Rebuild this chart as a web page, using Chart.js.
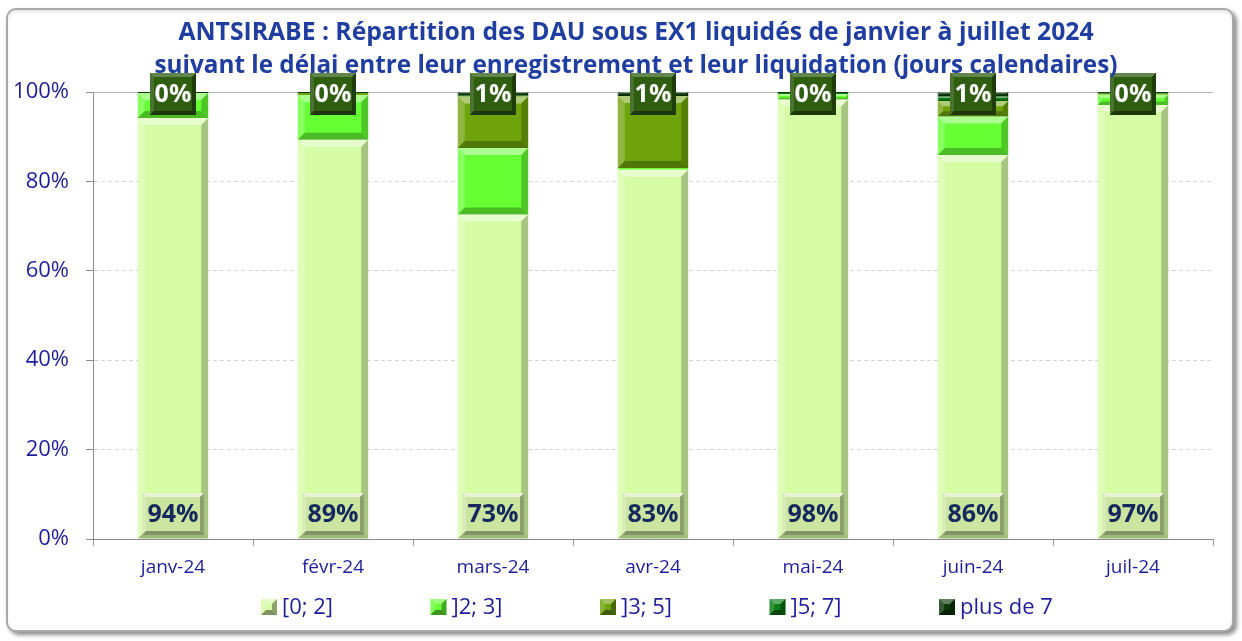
<!DOCTYPE html>
<html><head><meta charset="utf-8">
<script src="https://cdn.jsdelivr.net/npm/chart.js@4.4.1/dist/chart.umd.min.js"></script>
<style>
html,body{margin:0;padding:0;background:#fff;}
#wrap{position:relative;width:1242px;height:641px;overflow:hidden;}
#frame{position:absolute;left:6px;top:8px;width:1224px;height:620px;border:2px solid #a8a8a8;border-radius:10px;box-shadow:3px 3px 4px rgba(0,0,0,0.45), inset 0 3px 3px rgba(0,0,0,0.08);background:#fff;}
canvas{position:absolute;left:0;top:0;}
</style></head>
<body><div id="wrap"><div id="frame"></div><canvas id="c" width="1242" height="641"></canvas></div>
<script>
const titleLines = ['ANTSIRABE : Répartition des DAU sous EX1 liquidés de janvier à juillet 2024',
  'suivant le délai entre leur enregistrement et leur liquidation (jours calendaires)'];
const categories = ['janv-24','févr-24','mars-24','avr-24','mai-24','juin-24','juil-24'];
const seriesNames = ['[0; 2]', ']2; 3]', ']3; 5]', ']5; 7]', 'plus de 7'];
const s0to2 = [94.2, 89.3, 72.6, 82.6, 98.3, 85.9, 97.1];
const s2to3 = [5.6, 10.0, 14.9, 0.4, 1.2, 8.6, 2.3];
const s3to5 = [0, 0.5, 11.5, 16.1, 0, 3.5, 0.2];
const s5to7 = [0, 0, 0.2, 0, 0.3, 1.0, 0.2];
const sPlus7 = [0.2, 0.2, 0.8, 0.9, 0.2, 1.0, 0.2];
const yTicks = [0, 20, 40, 60, 80, 100];

const colors = ['#d6fba5', '#66ff33', '#6fa30a', '#0a7d12', '#0d3a0a'];
const FONT = "'Open Sans','Noto Sans',sans-serif";
const TXT = '#1e1e9c';

function bevel(ctx, l, t, r, b, s, lightA, darkA) {
  const h = b - t; s = Math.min(s, h / 3, (r - l) / 3);
  if (s < 1) return;
  ctx.save();
  ctx.fillStyle = 'rgba(255,255,255,' + lightA + ')';
  ctx.beginPath(); ctx.moveTo(l, t); ctx.lineTo(r, t); ctx.lineTo(r - s, t + s); ctx.lineTo(l + s, t + s); ctx.closePath(); ctx.fill();
  ctx.fillStyle = 'rgba(255,255,255,' + (lightA * 0.5) + ')';
  ctx.beginPath(); ctx.moveTo(l, t); ctx.lineTo(l + s, t + s); ctx.lineTo(l + s, b - s); ctx.lineTo(l, b); ctx.closePath(); ctx.fill();
  ctx.fillStyle = 'rgba(0,0,0,' + darkA + ')';
  ctx.beginPath(); ctx.moveTo(r, t); ctx.lineTo(r, b); ctx.lineTo(r - s, b - s); ctx.lineTo(r - s, t + s); ctx.closePath(); ctx.fill();
  ctx.fillStyle = 'rgba(0,0,0,' + (darkA * 1.2) + ')';
  ctx.beginPath(); ctx.moveTo(l, b); ctx.lineTo(r, b); ctx.lineTo(r - s, b - s); ctx.lineTo(l + s, b - s); ctx.closePath(); ctx.fill();
  ctx.restore();
}

const decor = {
  id: 'decor',
  beforeDatasetsDraw(chart) {
    const ctx = chart.ctx, ys = chart.scales.y, a = chart.chartArea;
    const yTop = Math.round(ys.getPixelForValue(100)) + 0.5;
    ctx.save(); ctx.strokeStyle = '#b4b4b4'; ctx.lineWidth = 1;
    ctx.beginPath(); ctx.moveTo(a.left, yTop); ctx.lineTo(a.right, yTop); ctx.stroke(); ctx.restore();
  },
  afterDatasetsDraw(chart) {
    const ctx = chart.ctx;
    chart.data.datasets.forEach((ds, i) => {
      chart.getDatasetMeta(i).data.forEach(el => {
        const l = el.x - el.width / 2, r = el.x + el.width / 2;
        const t = Math.min(el.y, el.base), b = Math.max(el.y, el.base);
        if (b - t > 2) bevel(ctx, l, t, r, b, 7, 0.45, 0.22);
      });
    });
    const ys = chart.scales.y;
    const bottomMeta = chart.getDatasetMeta(0), topMeta = chart.getDatasetMeta(4);
    ctx.save();
    ctx.textAlign = 'center'; ctx.textBaseline = 'middle';
    bottomMeta.data.forEach((el, k) => {
      const cx = el.x, cy = ys.getPixelForValue(0) - 25, w = 62, h = 42;
      ctx.fillStyle = '#cbe4a0'; ctx.fillRect(cx - w / 2, cy - h / 2, w, h);
      bevel(ctx, cx - w / 2, cy - h / 2, cx + w / 2, cy + h / 2, 4, 0.55, 0.3);
      ctx.fillStyle = '#14285e'; ctx.font = 'bold 25px ' + FONT;
      ctx.fillText(Math.round(s0to2[k]) + '%', cx, cy + 1, 54);
    });
    topMeta.data.forEach((el, k) => {
      const cx = el.x, cy = ys.getPixelForValue(100) + 2, w = 46, h = 42;
      ctx.fillStyle = '#2f5e10'; ctx.fillRect(cx - w / 2, cy - h / 2, w, h);
      bevel(ctx, cx - w / 2, cy - h / 2, cx + w / 2, cy + h / 2, 4, 0.25, 0.35);
      ctx.fillStyle = '#ffffff'; ctx.font = 'bold 25px ' + FONT;
      ctx.fillText(Math.round(sPlus7[k]) + '%', cx, cy + 1, 42);
    });
    ctx.restore();
  },
  afterDraw(chart) {
    const ctx = chart.ctx;
    ctx.save();
    ctx.textAlign = 'center'; ctx.textBaseline = 'middle';
    ctx.fillStyle = '#1f3ea0'; ctx.font = 'bold 25px ' + FONT;
    ctx.fillText(titleLines[0], 636, 33, 915);
    ctx.fillText(titleLines[1], 636, 66, 963);
    ctx.textAlign = 'left';
    ctx.font = '22px ' + FONT;
    seriesNames.forEach((n, i) => {
      const x = 261 + i * 169.5, y = 607;
      ctx.fillStyle = colors[i]; ctx.fillRect(x, y - 8, 16, 16);
      bevel(ctx, x, y - 8, x + 16, y + 8, 5, 0.35, 0.35);
      ctx.fillStyle = TXT;
      ctx.fillText(n, x + 21, y + 1);
    });
    ctx.restore();
  }
};

const datasets = [s0to2, s2to3, s3to5, s5to7, sPlus7].map((d, i) => ({
  label: seriesNames[i], data: d, backgroundColor: colors[i], borderWidth: 0,
  barPercentage: 0.44, categoryPercentage: 1.0
}));

new Chart(document.getElementById('c'), {
  type: 'bar',
  data: { labels: categories, datasets },
  options: {
    responsive: false, animation: false,
    layout: { padding: { left: 0, right: 29, top: 92, bottom: 56 } },
    plugins: { legend: { display: false }, title: { display: false }, tooltip: { enabled: false } },
    scales: {
      x: {
        stacked: true,
        grid: { display: true, drawOnChartArea: false, drawTicks: true, tickLength: 7, color: '#999', offset: true },
        border: { display: true, color: '#8c8c8c', width: 1 },
        ticks: { color: TXT, font: { family: FONT, size: 19 }, padding: 10, maxRotation: 0 },
        afterFit(s) { s.height = 46; }
      },
      y: {
        stacked: true, min: 0, max: 100,
        afterBuildTicks(s) { s.ticks = yTicks.map(v => ({ value: v })); },
        grid: { color: ctx => ctx.tick && ctx.tick.value === 100 ? 'rgba(0,0,0,0)' : '#d4d4d4', tickColor: '#8c8c8c', tickLength: 7, drawTicks: true },
        border: { display: true, color: '#8c8c8c', width: 1, dash: [4, 3] },
        ticks: { color: TXT, font: { family: FONT, size: 22 }, padding: 17, callback: v => v + '%' },
        afterFit(s) { s.width = 93; }
      }
    }
  },
  plugins: [decor]
});
</script></body></html>
